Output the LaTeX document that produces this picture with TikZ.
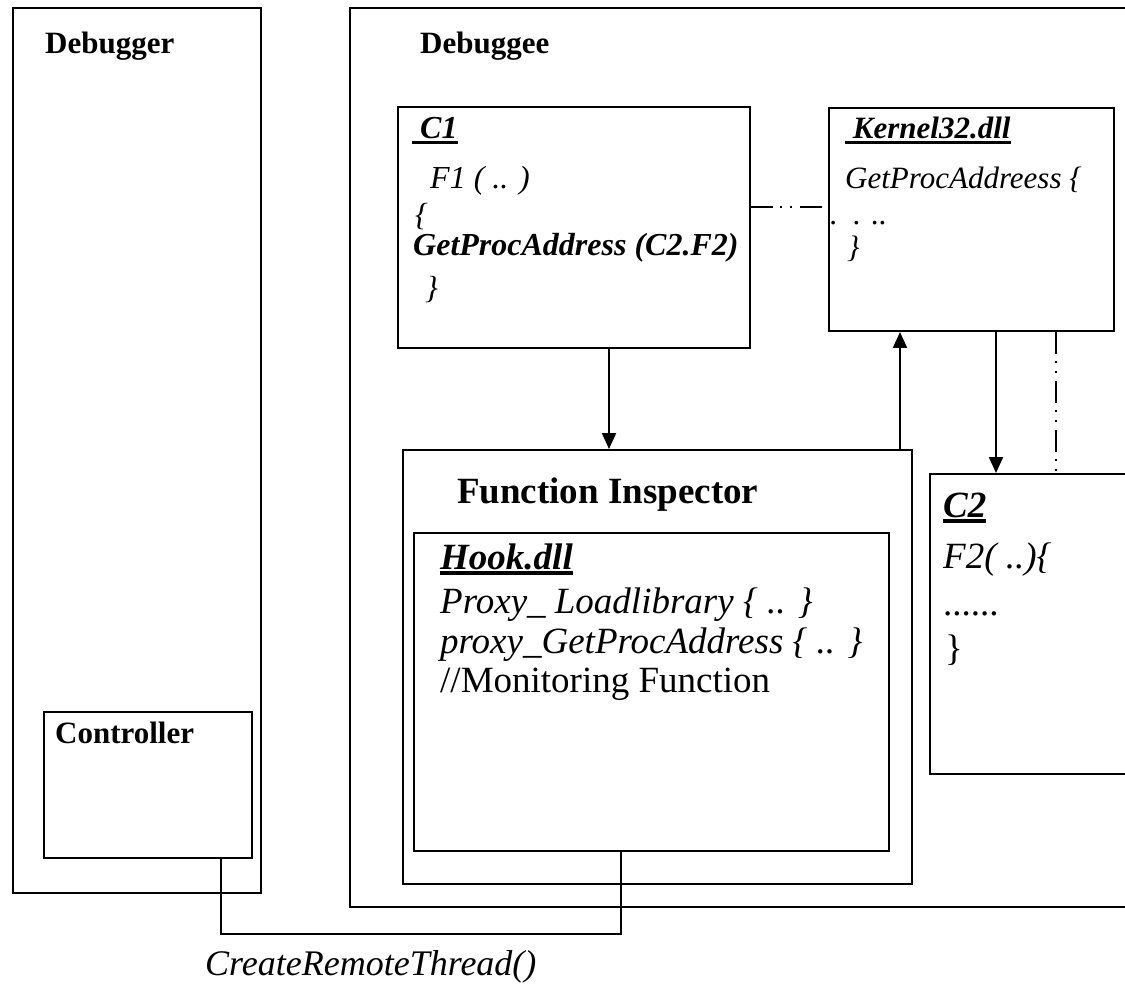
\documentclass[tikz,border=0pt]{standalone}
\usepackage{fontspec}
\setmainfont{Liberation Serif}
\usetikzlibrary{arrows.meta}
% underline drawn as a thick rule below the baseline
\newcommand\uln[1]{\setbox0\hbox{#1}\rlap{\rule[-5.5pt]{\wd0}{3.5pt}}\box0}
\begin{document}
\begin{tikzpicture}[x=1pt,y=-1pt,
  box/.style={draw, line width=2pt, inner sep=0pt, anchor=north west},
  arr/.style={line width=2pt, -{Triangle[length=16pt,width=14pt]}},
  link/.style={line width=2pt},
  dashdot/.style={line width=2pt, dash pattern=on 22pt off 7pt on 2pt off 8pt on 2pt off 8pt},
  lbl/.style={anchor=base west, inner sep=0pt},
  fa/.style={font=\fontsize{31}{37}\selectfont},
  fb/.style={font=\fontsize{32}{38}\selectfont},
  fc/.style={font=\fontsize{37}{44}\selectfont}]
\clip (0,0) rectangle (1125,984);
\fill[white] (0,0) rectangle (1125,984);

% frames
\node[box, minimum width=248pt, minimum height=885pt] (dbg) at (12,7) {};
\node[box, minimum width=208pt, minimum height=146pt] (ctrl) at (43,711) {};
\node[box, minimum width=800pt, minimum height=899pt] (dbe) at (349,7) {};
\node[box, minimum width=352pt, minimum height=241pt] (c1) at (397,106) {};
\node[box, minimum width=285pt, minimum height=223pt] (kern) at (828,107) {};
\node[box, minimum width=509pt, minimum height=434pt] (fi) at (402,449) {};
\node[box, minimum width=475pt, minimum height=318pt] (hook) at (413,532) {};
\node[box, minimum width=220pt, minimum height=300pt] (c2) at (929,473) {};

% titles
\node[lbl, fa] (tdbg) at (45,54) {\bfseries Debugger};
\node[lbl, fa] (tdbe) at (420,54) {\bfseries Debuggee};
\node[lbl, fa] (tctrl) at (55,743) {\bfseries Controller};

% C1
\node[lbl, fb] (c1a) at (412,139) {\bfseries\itshape\uln{\ C1}};
\node[lbl, fb] (c1b) at (430,189) {\itshape F1 ( .. )};
\node[lbl, fb] (c1c) at (415,226) {\itshape \{};
\node[lbl, fb] (c1d) at (413,256) {\bfseries\itshape GetProcAddress (C2.F2)};
\node[lbl, fb] (c1e) at (425,299) {\itshape \}};

% Kernel32.dll
\node[lbl, fa] (ka) at (845,139) {\bfseries\itshape\uln{\ Kernel32.dll}};
\node[lbl, fa] (kb) at (845,189) {\itshape GetProcAddreess \{};
\node[lbl, fa] (kc) at (830,225) {\itshape .\ \ . ..};
\node[lbl, fa] (kd) at (847,258) {\itshape \}};

% Function Inspector / Hook.dll
\node[lbl, fc] (tfi) at (457,503) {\bfseries Function Inspector};
\node[lbl, fc] (ha) at (440,569) {\bfseries\itshape\uln{Hook.dll}};
\node[lbl, fc] (hb) at (440,613) {\itshape Proxy\_ Loadlibrary \{ .. \}};
\node[lbl, fc] (hc) at (440,653) {\itshape proxy\_GetProcAddress \{ .. \}};
\node[lbl, fc] (hd) at (440,692) {//Monitoring Function};

% C2
\node[lbl, fc] (c2a) at (943,517) {\bfseries\itshape\uln{C2}};
\node[lbl, fc] (c2b) at (943,568) {\itshape F2( ..)\{};
\node[lbl, fc] (c2c) at (943,615) {......};
\node[lbl, fc] (c2d) at (945,660) {\}};

% connectors
\draw[arr] ([xshift=212pt]c1.south west) -- ([xshift=212pt]c1.south west |- fi.north);
\draw[arr] ([xshift=72pt]kern.south west |- fi.north) -- ([xshift=72pt]kern.south west);
\draw[arr] ([xshift=168pt]kern.south west) -- ([xshift=168pt]kern.south west |- c2.north);
\draw[dashdot] ([xshift=228pt]kern.south west) -- ([xshift=228pt]kern.south west |- c2.north);
\draw[dashdot] ([yshift=-101pt]c1.north east) -- ([yshift=-101pt]c1.north east -| kern.west);
\draw[link] ([xshift=-32pt]ctrl.south east) -- ++(0,75) -| ([xshift=208pt]hook.south west);

\node[lbl, font=\fontsize{36}{43}\selectfont] (crt) at (205,975) {\itshape CreateRemoteThread()};
\end{tikzpicture}
\end{document}
